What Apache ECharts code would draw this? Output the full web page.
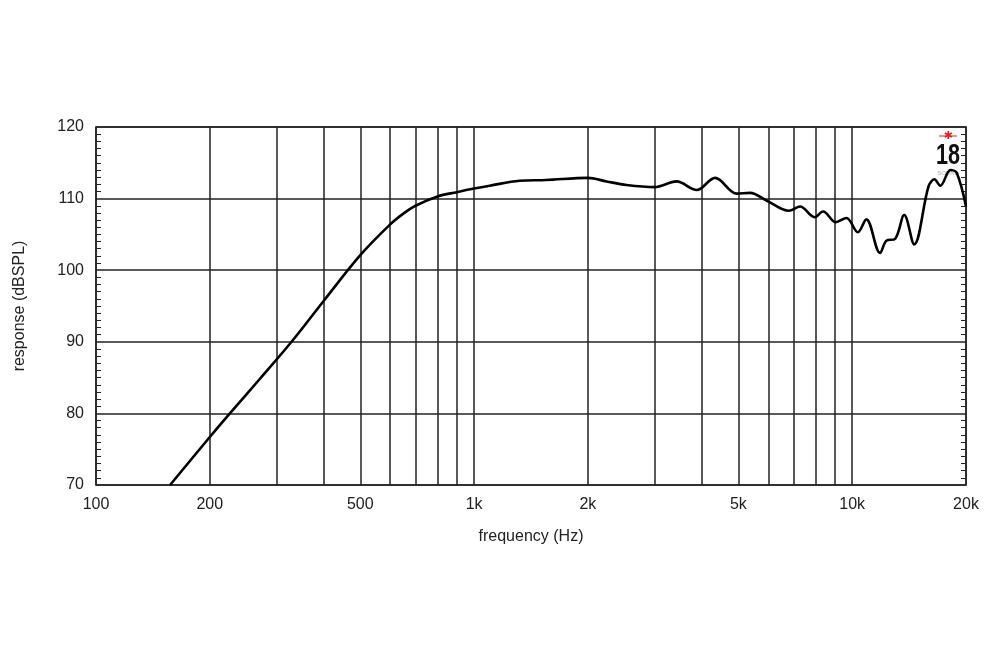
<!DOCTYPE html>
<html>
<head>
<meta charset="utf-8">
<script src="https://cdn.jsdelivr.net/npm/echarts@6/dist/echarts.min.js"></script>
<style>
html,body{margin:0;padding:0;background:#fff;}
#chart{width:1000px;height:650px;}
</style>
</head>
<body>
<div id="chart"></div>
<script>
// Frequency (Hz) and response (dBSPL)
var freqs = [157, 200, 226, 270, 329, 400, 500, 600, 650, 700, 800, 900, 1000, 1100, 1320, 1550, 2000, 2240, 2530, 3000, 3430, 3880, 4340, 4950, 5370, 5950, 6800, 7280, 7950, 8380, 9050, 9660, 10350, 10900, 11850, 12300, 13000, 13730, 14590, 15920, 16500, 17100, 18200, 18900, 20000];
var response = [70, 76.7, 80, 84.7, 90, 95.7, 102.1, 106.4, 107.9, 109.0, 110.3, 110.9, 111.4, 111.8, 112.5, 112.6, 112.9, 112.4, 111.9, 111.6, 112.4, 111.2, 112.9, 110.7, 110.8, 109.7, 108.3, 108.9, 107.4, 108.2, 106.7, 107.3, 105.3, 107.1, 102.4, 104.1, 104.4, 107.7, 103.6, 111.7, 112.7, 111.8, 114.0, 113.6, 108.9];
var gridFreqs = [100, 200, 300, 400, 500, 600, 700, 800, 900, 1000, 2000, 3000, 4000, 5000, 6000, 7000, 8000, 9000, 10000, 20000];
var labelFreqs = [100, 200, 500, 1000, 2000, 5000, 10000, 20000];
var yTicks = [70, 80, 90, 100, 110, 120];

var points = freqs.map(function (f, i) { return [f, response[i]]; });
var lineCol = '#222';
var font = 'Liberation Sans, Arial, sans-serif';
var chart = echarts.init(document.getElementById('chart'));
chart.setOption({
  animation: false,
  backgroundColor: '#fff',
  grid: { left: 96, right: 34, top: 127, bottom: 165, show: false },
  xAxis: [{
    type: 'log', logBase: 10, min: 100, max: 20000,
    name: 'frequency (Hz)', nameLocation: 'middle', nameGap: 44,
    nameTextStyle: { fontFamily: font, fontSize: 16, color: '#222' },
    axisLine: { show: true, lineStyle: { color: lineCol, width: 1.5 } },
    axisTick: { show: false, customValues: gridFreqs },
    axisLabel: {
      customValues: labelFreqs, margin: 12,
      fontFamily: font, fontSize: 16, color: '#222',
      formatter: function (v) { v = Math.round(v); return v >= 1000 ? (v / 1000) + 'k' : String(v); }
    },
    splitLine: { show: true, lineStyle: { color: lineCol, width: 1.5 } }
  }, {
    type: 'log', logBase: 10, min: 100, max: 20000, position: 'top',
    axisLine: { show: true, lineStyle: { color: lineCol, width: 1.5 } },
    axisTick: { show: false }, axisLabel: { show: false }, splitLine: { show: false }
  }],
  yAxis: [{
    type: 'value', min: yTicks[0], max: yTicks[yTicks.length - 1], interval: 10,
    name: 'response (dBSPL)', nameLocation: 'middle', nameGap: 68, nameRotate: 90,
    nameTextStyle: { fontFamily: font, fontSize: 16, color: '#222' },
    axisLine: { show: true, lineStyle: { color: lineCol, width: 1.5 } },
    axisTick: { show: false, inside: true, length: 5 },
    minorTick: { show: true, splitNumber: 10, length: 5, lineStyle: { color: lineCol, width: 1 } },
    axisLabel: { margin: 12, fontFamily: font, fontSize: 16, color: '#222' },
    splitLine: { show: true, lineStyle: { color: lineCol, width: 1.5 } }
  }, {
    type: 'value', min: yTicks[0], max: yTicks[yTicks.length - 1], interval: 10, position: 'right',
    axisLine: { show: true, lineStyle: { color: lineCol, width: 1.5 } },
    axisTick: { show: false, inside: true, length: 5 },
    minorTick: { show: true, splitNumber: 10, length: 5, lineStyle: { color: lineCol, width: 1 } },
    axisLabel: { show: false }, splitLine: { show: false }
  }],
  series: [{
    type: 'line', data: points, smooth: 0.35, showSymbol: false, symbol: 'none',
    clip: true,
    lineStyle: { color: '#000', width: 2.6 }
  }],
  graphic: [
    { type: 'line', shape: { x1: 939, y1: 136, x2: 957, y2: 136 }, style: { stroke: '#e02020', lineWidth: 1 } },
    { type: 'text', x: 948, y: 136, style: { text: '✱', align: 'center', verticalAlign: 'middle', fill: '#e02020', font: '11px DejaVu Sans' } },
    { type: 'text', x: 948, y: 156, scaleX: 0.72, style: { text: '18', align: 'center', verticalAlign: 'middle', fill: '#111', font: 'bold 30px Liberation Sans' } },
    { type: 'text', x: 948, y: 173, style: { text: 'SOUND', align: 'center', verticalAlign: 'middle', fill: '#aaa', font: '6px Liberation Sans' } }
  ]
});
</script>
</body>
</html>
